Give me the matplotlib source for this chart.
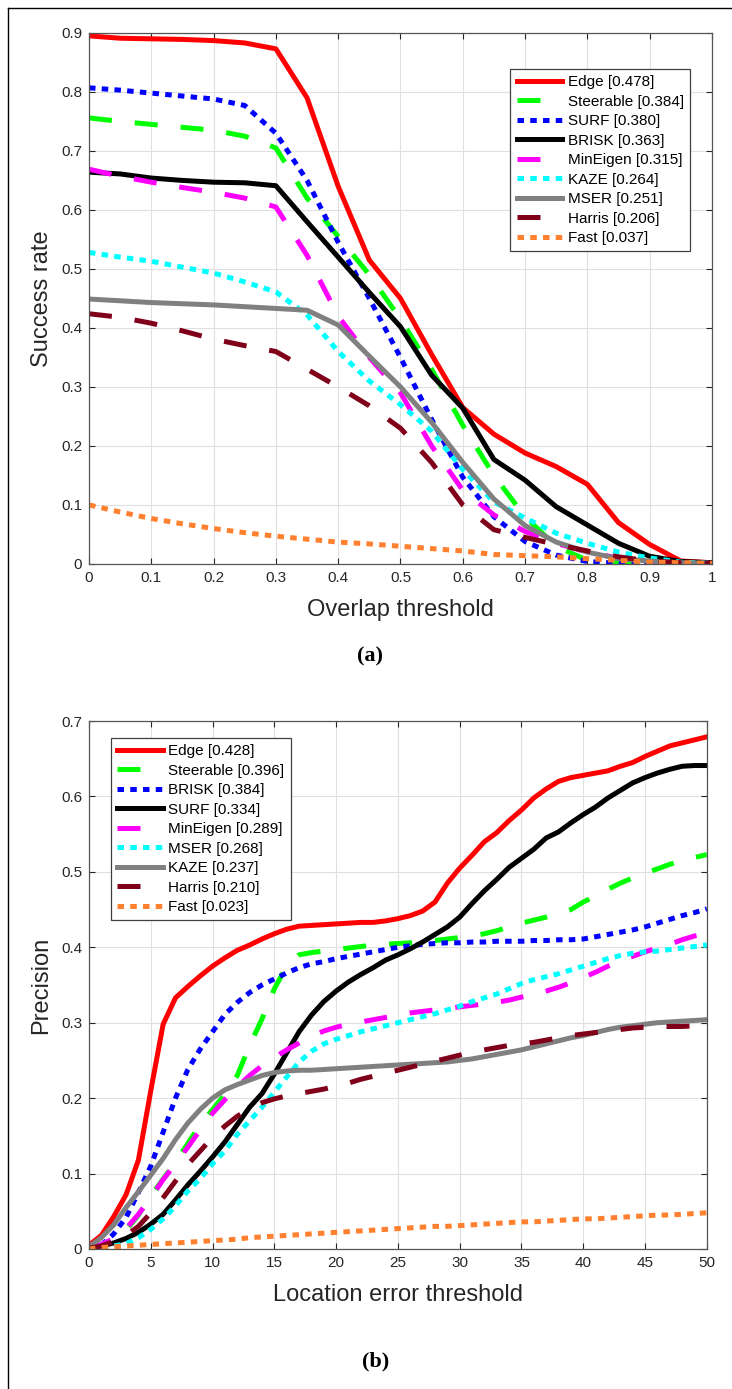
import matplotlib
matplotlib.use('Agg')
import matplotlib.pyplot as plt
from matplotlib.lines import Line2D
import numpy as np

plt.rcParams['font.family'] = ['Liberation Sans', 'DejaVu Sans']

# ---- panel (a): success rate vs overlap threshold ----
overlap = [0.0, 0.05, 0.1, 0.15, 0.2, 0.25, 0.3, 0.35, 0.4, 0.45, 0.5,
           0.55, 0.6, 0.65, 0.7, 0.75, 0.8, 0.85, 0.9, 0.95, 1.0]
a_edge = [0.895, 0.891, 0.890, 0.889, 0.887, 0.883, 0.873, 0.790, 0.640, 0.515, 0.450,
          0.355, 0.265, 0.220, 0.188, 0.165, 0.135, 0.070, 0.033, 0.005, 0.002]
a_steer = [0.756, 0.750, 0.745, 0.740, 0.735, 0.725, 0.705, 0.620, 0.555, 0.490, 0.415,
           0.330, 0.235, 0.150, 0.080, 0.030, 0.006, 0.002, 0.001, 0.000, 0.000]
a_surf = [0.807, 0.803, 0.798, 0.793, 0.788, 0.777, 0.730, 0.650, 0.545, 0.450, 0.350,
          0.245, 0.147, 0.080, 0.038, 0.015, 0.004, 0.001, 0.000, 0.000, 0.000]
a_brisk = [0.664, 0.661, 0.654, 0.650, 0.647, 0.646, 0.641, 0.580, 0.520, 0.460, 0.402,
           0.320, 0.264, 0.177, 0.142, 0.097, 0.066, 0.035, 0.013, 0.004, 0.002]
a_mineig = [0.669, 0.657, 0.647, 0.638, 0.630, 0.620, 0.605, 0.523, 0.420, 0.350, 0.290,
            0.200, 0.125, 0.083, 0.055, 0.035, 0.020, 0.010, 0.004, 0.001, 0.000]
a_kaze = [0.528, 0.520, 0.513, 0.503, 0.493, 0.478, 0.461, 0.422, 0.360, 0.310, 0.270,
          0.225, 0.160, 0.105, 0.078, 0.052, 0.035, 0.020, 0.010, 0.003, 0.001]
a_mser = [0.449, 0.446, 0.443, 0.441, 0.439, 0.436, 0.433, 0.430, 0.405, 0.352, 0.300,
          0.240, 0.172, 0.110, 0.065, 0.037, 0.020, 0.009, 0.005, 0.002, 0.001]
a_harris = [0.424, 0.418, 0.408, 0.395, 0.381, 0.370, 0.360, 0.330, 0.300, 0.268, 0.230,
            0.172, 0.100, 0.058, 0.045, 0.033, 0.022, 0.012, 0.005, 0.002, 0.001]
a_fast = [0.100, 0.088, 0.077, 0.068, 0.060, 0.053, 0.047, 0.042, 0.037, 0.034, 0.030,
          0.026, 0.022, 0.016, 0.014, 0.012, 0.009, 0.006, 0.003, 0.002, 0.001]
a_labels = ['Edge [0.478]', 'Steerable [0.384]', 'SURF [0.380]', 'BRISK [0.363]',
            'MinEigen [0.315]', 'KAZE [0.264]', 'MSER [0.251]', 'Harris [0.206]',
            'Fast [0.037]']

# ---- panel (b): precision vs location error threshold ----
loc_err = list(range(0, 51))
b_edge = [0.005, 0.018, 0.043, 0.072, 0.118, 0.210, 0.298, 0.333, 0.348, 0.362, 0.375,
          0.386, 0.396, 0.403, 0.411, 0.418, 0.424, 0.428, 0.429, 0.430, 0.431,
          0.432, 0.433, 0.433, 0.435, 0.438, 0.442, 0.448, 0.460, 0.485, 0.505,
          0.522, 0.540, 0.552, 0.568, 0.582, 0.598, 0.610, 0.620, 0.625, 0.628,
          0.631, 0.634, 0.640, 0.645, 0.653, 0.660, 0.667, 0.671, 0.675, 0.679]
b_steer = [0.002, 0.005, 0.012, 0.025, 0.045, 0.070, 0.093, 0.115, 0.140, 0.165, 0.185,
           0.205, 0.230, 0.270, 0.305, 0.345, 0.375, 0.390, 0.393, 0.395, 0.397,
           0.399, 0.401, 0.403, 0.404, 0.405, 0.406, 0.408, 0.409, 0.411, 0.413,
           0.415, 0.418, 0.422, 0.427, 0.432, 0.436, 0.440, 0.445, 0.450, 0.460,
           0.468, 0.477, 0.485, 0.492, 0.498, 0.504, 0.510, 0.515, 0.519, 0.523]
b_brisk = [0.002, 0.005, 0.020, 0.042, 0.075, 0.110, 0.155, 0.200, 0.238, 0.265, 0.288,
           0.311, 0.327, 0.340, 0.350, 0.358, 0.366, 0.373, 0.378, 0.381, 0.385,
           0.388, 0.391, 0.394, 0.397, 0.400, 0.402, 0.404, 0.405, 0.406, 0.406,
           0.407, 0.407, 0.408, 0.408, 0.408, 0.409, 0.409, 0.410, 0.410, 0.411,
           0.414, 0.417, 0.420, 0.423, 0.427, 0.432, 0.437, 0.442, 0.446, 0.451]
b_surf = [0.002, 0.004, 0.008, 0.014, 0.022, 0.033, 0.046, 0.065, 0.085, 0.103, 0.122,
          0.142, 0.165, 0.188, 0.206, 0.232, 0.260, 0.288, 0.310, 0.328, 0.342,
          0.354, 0.364, 0.373, 0.383, 0.390, 0.398, 0.407, 0.417, 0.427, 0.440,
          0.458, 0.475, 0.490, 0.506, 0.518, 0.530, 0.545, 0.553, 0.565, 0.576,
          0.586, 0.598, 0.608, 0.618, 0.625, 0.631, 0.636, 0.640, 0.641, 0.641]
b_mineig = [0.002, 0.006, 0.014, 0.027, 0.046, 0.068, 0.092, 0.113, 0.135, 0.158, 0.180,
            0.198, 0.215, 0.230, 0.243, 0.254, 0.264, 0.273, 0.282, 0.289, 0.294,
            0.298, 0.301, 0.304, 0.307, 0.310, 0.313, 0.315, 0.317, 0.319, 0.321,
            0.323, 0.325, 0.327, 0.330, 0.334, 0.338, 0.342, 0.347, 0.353, 0.360,
            0.367, 0.375, 0.382, 0.388, 0.394, 0.399, 0.404, 0.410, 0.415, 0.418]
b_mser = [0.001, 0.002, 0.004, 0.007, 0.015, 0.026, 0.040, 0.057, 0.077, 0.093, 0.113,
          0.130, 0.152, 0.170, 0.188, 0.208, 0.228, 0.248, 0.262, 0.272, 0.278,
          0.283, 0.288, 0.292, 0.296, 0.300, 0.304, 0.308, 0.312, 0.317, 0.322,
          0.328, 0.333, 0.338, 0.345, 0.352, 0.357, 0.361, 0.365, 0.370, 0.375,
          0.380, 0.385, 0.389, 0.392, 0.394, 0.395, 0.397, 0.399, 0.401, 0.403]
b_kaze = [0.003, 0.015, 0.032, 0.055, 0.076, 0.098, 0.120, 0.145, 0.167, 0.185, 0.200,
          0.211, 0.218, 0.224, 0.230, 0.234, 0.236, 0.237, 0.237, 0.238, 0.239,
          0.240, 0.241, 0.242, 0.243, 0.244, 0.245, 0.246, 0.247, 0.248, 0.250,
          0.252, 0.255, 0.258, 0.261, 0.264, 0.268, 0.272, 0.276, 0.280, 0.283,
          0.287, 0.291, 0.294, 0.296, 0.298, 0.300, 0.301, 0.302, 0.303, 0.304]
b_harris = [0.001, 0.004, 0.010, 0.018, 0.030, 0.048, 0.068, 0.090, 0.112, 0.130, 0.148,
            0.163, 0.176, 0.186, 0.194, 0.199, 0.203, 0.206, 0.209, 0.212, 0.216,
            0.220, 0.225, 0.229, 0.233, 0.237, 0.241, 0.245, 0.249, 0.253, 0.257,
            0.261, 0.264, 0.267, 0.270, 0.272, 0.274, 0.277, 0.280, 0.283, 0.285,
            0.287, 0.289, 0.291, 0.293, 0.294, 0.295, 0.295, 0.295, 0.296, 0.296]
b_fast = [0.000, 0.002, 0.003, 0.004, 0.005, 0.006, 0.007, 0.008, 0.009, 0.010, 0.011,
          0.012, 0.013, 0.015, 0.016, 0.017, 0.018, 0.019, 0.020, 0.021, 0.022,
          0.023, 0.024, 0.025, 0.026, 0.027, 0.028, 0.029, 0.030, 0.030, 0.031,
          0.032, 0.033, 0.034, 0.035, 0.036, 0.036, 0.037, 0.038, 0.039, 0.040,
          0.040, 0.041, 0.042, 0.043, 0.044, 0.045, 0.045, 0.046, 0.047, 0.048]
b_labels = ['Edge [0.428]', 'Steerable [0.396]', 'BRISK [0.384]', 'SURF [0.334]',
            'MinEigen [0.289]', 'MSER [0.268]', 'KAZE [0.237]', 'Harris [0.210]',
            'Fast [0.023]']

RED = (1, 0, 0)
GREEN = (0, 1, 0)
BLUE = (0, 0, 1)
BLACK = (0, 0, 0)
MAGENTA = (1, 0, 1)
CYAN = (0, 1, 1)
GRAY = (0.5, 0.5, 0.5)
DRED = (0.5, 0.0, 0.1)
ORANGE = (1.0, 0.5, 0.18)

LW = 3.6
SOLID = dict(linestyle='-')
DASH = dict(linestyle=(0, (4.6, 4.6)), dash_capstyle='butt')
DOT = dict(linestyle=(0, (1.3, 1.25)), dash_capstyle='butt')

a_series = [(a_edge, RED, SOLID), (a_steer, GREEN, DASH), (a_surf, BLUE, DOT),
            (a_brisk, BLACK, SOLID), (a_mineig, MAGENTA, DASH), (a_kaze, CYAN, DOT),
            (a_mser, GRAY, SOLID), (a_harris, DRED, DASH), (a_fast, ORANGE, DOT)]
b_series = [(b_edge, RED, SOLID), (b_steer, GREEN, DASH), (b_brisk, BLUE, DOT),
            (b_surf, BLACK, SOLID), (b_mineig, MAGENTA, DASH), (b_mser, CYAN, DOT),
            (b_kaze, GRAY, SOLID), (b_harris, DRED, DASH), (b_fast, ORANGE, DOT)]

fig = plt.figure(figsize=(7.32, 13.89), dpi=100)


def style_axes(ax):
    ax.grid(True, color=(0.88, 0.88, 0.88), linewidth=0.8)
    ax.set_axisbelow(True)
    ax.tick_params(direction='in', length=4, width=0.8, top=True, right=True,
                   labelsize=11, colors='#262626', pad=5)
    for s in ax.spines.values():
        s.set_color('#555555')
        s.set_linewidth(0.9)


def add_legend(ax, **kw):
    leg = ax.legend(fontsize=11, handlelength=3.0, handletextpad=0.35,
                    labelspacing=0.36, borderpad=0.4, borderaxespad=0,
                    fancybox=False, framealpha=1, edgecolor='#404040', **kw)
    leg.get_frame().set_linewidth(0.9)
    return leg


# panel (a)
ax1 = fig.add_axes([0.1216, 0.5940, 0.851, 0.3823])
for (ys, col, ls), lab in zip(a_series, a_labels):
    ax1.plot(overlap, ys, color=col, linewidth=LW, label=lab, **ls)
ax1.set_xlim(0, 1)
ax1.set_ylim(0, 0.9)
ax1.set_xticks(np.arange(0, 1.01, 0.1))
ax1.set_xticklabels(['0', '0.1', '0.2', '0.3', '0.4', '0.5', '0.6', '0.7', '0.8', '0.9', '1'])
ax1.set_yticks(np.arange(0, 0.91, 0.1))
ax1.set_yticklabels(['0', '0.1', '0.2', '0.3', '0.4', '0.5', '0.6', '0.7', '0.8', '0.9'])
style_axes(ax1)
ax1.set_xlabel('Overlap threshold', fontsize=17, color='#262626', labelpad=10)
ax1.set_ylabel('Success rate', fontsize=17, color='#262626', labelpad=6)
add_legend(ax1, loc='upper right', bbox_to_anchor=(0.9647, 0.932))

# panel (b)
ax2 = fig.add_axes([0.1216, 0.1008, 0.844, 0.3801])
for (ys, col, ls), lab in zip(b_series, b_labels):
    ax2.plot(loc_err, ys, color=col, linewidth=LW, label=lab, **ls)
ax2.set_xlim(0, 50)
ax2.set_ylim(0, 0.7)
ax2.set_xticks(range(0, 51, 5))
ax2.set_yticks(np.arange(0, 0.71, 0.1))
ax2.set_yticklabels(['0', '0.1', '0.2', '0.3', '0.4', '0.5', '0.6', '0.7'])
style_axes(ax2)
ax2.set_xlabel('Location error threshold', fontsize=17, color='#262626', labelpad=10)
ax2.set_ylabel('Precision', fontsize=17, color='#262626', labelpad=6)
add_legend(ax2, loc='upper left', bbox_to_anchor=(0.0356, 0.968))

# captions
fig.text(370 / 732, 1 - 656 / 1389, '(a)', family='Liberation Serif', weight='bold',
         fontsize=16, ha='center', va='center')
fig.text(376 / 732, 1 - 1361 / 1389, '(b)', family='Liberation Serif', weight='bold',
         fontsize=16, ha='center', va='center')

# page frame lines (top and left)
fig.add_artist(Line2D([8 / 732, 1.0], [1 - 8 / 1389, 1 - 8 / 1389],
                      transform=fig.transFigure, color='black', linewidth=1))
fig.add_artist(Line2D([8 / 732, 8 / 732], [0.0, 1 - 8 / 1389],
                      transform=fig.transFigure, color='black', linewidth=1))

fig.savefig('out.png', dpi=100)
plt.close(fig)
